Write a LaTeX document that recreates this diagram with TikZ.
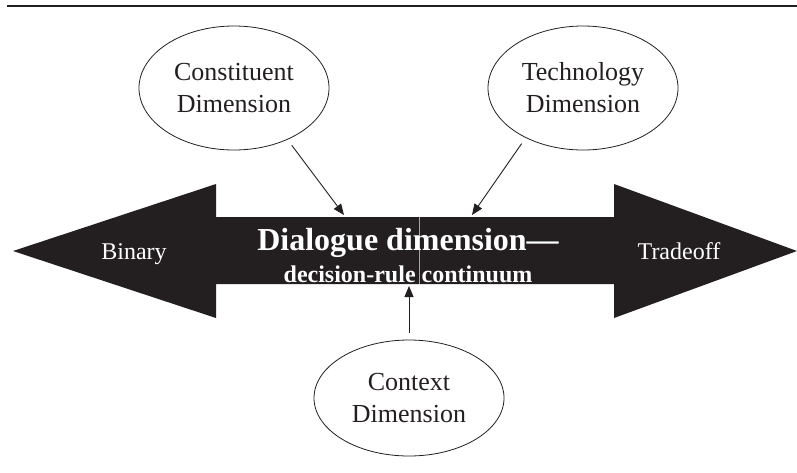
\documentclass[tikz,border=0pt]{standalone}
\usepackage{fontspec}
\setmainfont{Liberation Serif}
\usetikzlibrary{arrows.meta,shapes.geometric}
\definecolor{inkblack}{HTML}{231F20}

\begin{document}
\begin{tikzpicture}[x=1pt, y=-1pt,
  dimension/.style={draw=inkblack, line width=0.8pt, ellipse, inner sep=0pt,
    minimum width=190pt, minimum height=124pt, align=center,
    text=inkblack, font=\fontsize{26}{32}\selectfont},
  pointer/.style={draw=inkblack, line width=0.9pt,
    -{Triangle[length=11pt,width=9pt]}, shorten <=7pt},
  endlabel/.style={anchor=base, text=white, font=\fontsize{24}{28}\selectfont}]
  \useasboundingbox (0,0) rectangle (797,472);
  % top rule
  \draw[inkblack, line width=2.5pt] (7,6) -- (797,6);
  % the double arrow
  \fill[inkblack] (13,251) -- (216,184) -- (216,217) -- (614,217) -- (614,184)
    -- (797,251) -- (614,318) -- (614,284) -- (216,284) -- (216,318) -- cycle;
  \draw[gray!70, line width=0.5pt] (419,217) -- (419,284);
  \node[endlabel] (binary) at (134,259) {Binary};
  \node[endlabel] (tradeoff) at (679,259) {Tradeoff};
  \node[anchor=base, text=white, font=\bfseries\fontsize{32}{36}\selectfont] (title) at (408,250) {Dialogue dimension---};
  \node[anchor=base, text=white, font=\bfseries\fontsize{24}{28}\selectfont] (subtitle) at (408,282) {decision-rule continuum};
  % dimensions
  \node[dimension] (constituent) at (234,88) {Constituent\\Dimension};
  \node[dimension] (technology) at (583,88) {Technology\\Dimension};
  \node[dimension, minimum height=116pt] (context) at (409,398) {Context\\Dimension};
  \coordinate (consttip) at (344,215);
  \coordinate (techtip) at (472,215);
  \coordinate (ctxtip) at (409,286);
  \draw[pointer] (constituent.-44) -- (consttip);
  \draw[pointer] (technology.-139) -- (techtip);
  \draw[pointer] (context.north) -- (ctxtip);
\end{tikzpicture}
\end{document}
